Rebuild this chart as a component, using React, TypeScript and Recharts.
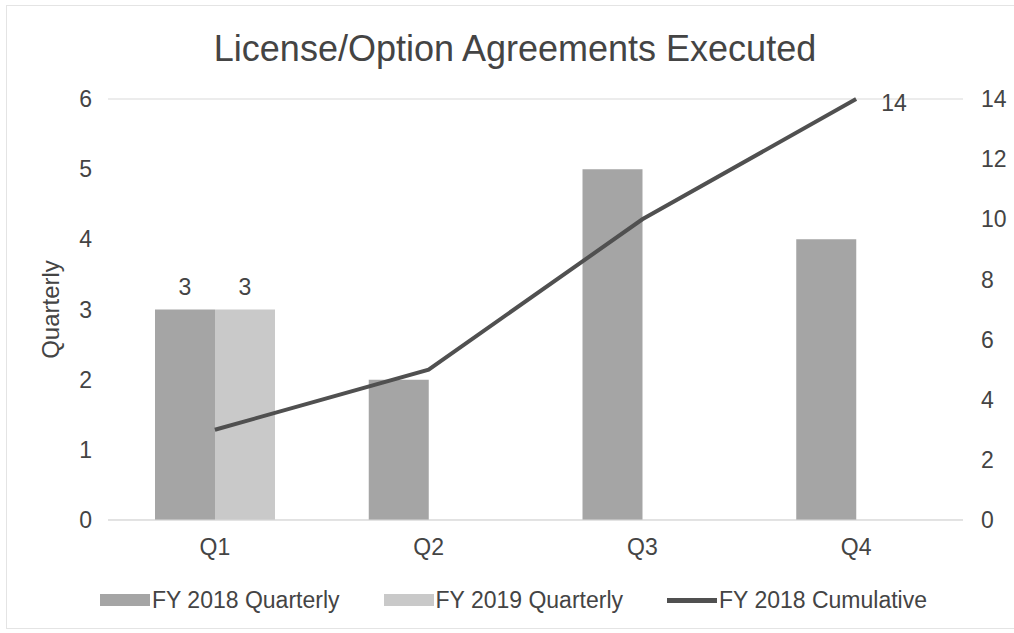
import React from 'react';
import { ComposedChart, Bar, Line, XAxis, YAxis, CartesianGrid, Legend, LabelList } from 'recharts';

const quarters = ['Q1', 'Q2', 'Q3', 'Q4'];
const fy2018Quarterly = [3, 2, 5, 4];
const fy2019Quarterly: (number | null)[] = [3, null, null, null];
const fy2018Cumulative = [3, 5, 10, 14];
const leftTicks = [0, 1, 2, 3, 4, 5, 6];
const rightTicks = [0, 2, 4, 6, 8, 10, 12, 14];

const FONT = '"Liberation Sans", Arial, sans-serif';
const TEXT = '#444444';
const DARK_BAR = '#a5a5a5';
const LIGHT_BAR = '#c9c9c9';
const LINE = '#505050';

const data = quarters.map((q, i) => ({
  quarter: q,
  fy18: fy2018Quarterly[i],
  fy19: fy2019Quarterly[i],
  cum: fy2018Cumulative[i],
}));

// Excel only labelled Q1 bars and the last cumulative point
const firstOnlyLabel = (props: any) => {
  const { x, y, width, value, index } = props;
  if (index !== 0 || value == null) return null;
  return (
    <text x={x + width / 2} y={y - 15} textAnchor="middle" fontSize={23} fill={TEXT} fontFamily={FONT}>
      {value}
    </text>
  );
};

const lastOnlyLabel = (props: any) => {
  const { x, y, value, index } = props;
  if (index !== data.length - 1) return null;
  return (
    <text x={x + 25} y={y + 12} textAnchor="start" fontSize={23} fill={TEXT} fontFamily={FONT}>
      {value}
    </text>
  );
};

const legendItems = [
  { label: 'FY 2018 Quarterly', color: DARK_BAR, kind: 'bar' },
  { label: 'FY 2019 Quarterly', color: LIGHT_BAR, kind: 'bar' },
  { label: 'FY 2018 Cumulative', color: LINE, kind: 'line' },
];

const renderLegend = () => (
  <div style={{ display: 'flex', alignItems: 'center', height: 30, paddingLeft: 100, fontFamily: FONT, fontSize: 23, color: TEXT }}>
    {legendItems.map((it) => (
      <div key={it.label} style={{ display: 'flex', alignItems: 'center', marginRight: 44 }}>
        <span
          style={{
            display: 'inline-block',
            width: 50,
            height: it.kind === 'bar' ? 12 : 5,
            background: it.color,
            marginRight: 2,
          }}
        />
        <span>{it.label}</span>
      </div>
    ))}
  </div>
);

export default function App() {
  return (
    <div style={{ position: 'absolute', left: 0, top: 0, width: 1014, height: 633, background: '#fff' }}>
      <div
        style={{
          position: 'absolute',
          left: 6,
          top: 5,
          width: 1014,
          height: 624,
          border: '1px solid #e4e4e4',
          boxSizing: 'border-box',
        }}
      />
      <div
        style={{
          position: 'absolute',
          top: 28,
          left: 8,
          width: 1014,
          textAlign: 'center',
          fontFamily: FONT,
          fontSize: 36,
          color: TEXT,
        }}
      >
        License/Option Agreements Executed
      </div>
      <ComposedChart
        width={1014}
        height={633}
        data={data}
        margin={{ top: 99, right: 0, bottom: 18, left: 0 }}
        barGap={0}
        style={{ fontFamily: FONT }}
      >
        <CartesianGrid vertical={false} stroke="#d9d9d9" />
        <XAxis
          dataKey="quarter"
          axisLine={{ stroke: '#d9d9d9' }}
          tickLine={false}
          tick={{ fontSize: 23, fill: TEXT }}
          tickMargin={13}
          height={65}
        />
        <YAxis
          yAxisId="left"
          domain={[0, 6]}
          ticks={leftTicks}
          axisLine={false}
          tickLine={false}
          tick={{ fontSize: 23, fill: TEXT }}
          tickMargin={10}
          width={108}
          label={{ value: 'Quarterly', angle: -90, position: 'insideLeft', offset: 50, style: { fontSize: 24, fill: TEXT, textAnchor: 'middle' } }}
        />
        <YAxis
          yAxisId="right"
          orientation="right"
          domain={[0, 14]}
          ticks={rightTicks}
          axisLine={false}
          tickLine={false}
          tick={{ fontSize: 23, fill: TEXT }}
          tickMargin={12}
          width={51}
        />
        <Legend verticalAlign="bottom" height={30} content={renderLegend} />
        <Bar yAxisId="left" dataKey="fy18" name="FY 2018 Quarterly" fill={DARK_BAR} barSize={60} isAnimationActive={false}>
          <LabelList dataKey="fy18" content={firstOnlyLabel} />
        </Bar>
        <Bar yAxisId="left" dataKey="fy19" name="FY 2019 Quarterly" fill={LIGHT_BAR} barSize={60} isAnimationActive={false}>
          <LabelList dataKey="fy19" content={firstOnlyLabel} />
        </Bar>
        <Line
          yAxisId="right"
          dataKey="cum"
          name="FY 2018 Cumulative"
          stroke={LINE}
          strokeWidth={4}
          dot={false}
          type="linear"
          isAnimationActive={false}
        >
          <LabelList dataKey="cum" content={lastOnlyLabel} />
        </Line>
      </ComposedChart>
    </div>
  );
}
